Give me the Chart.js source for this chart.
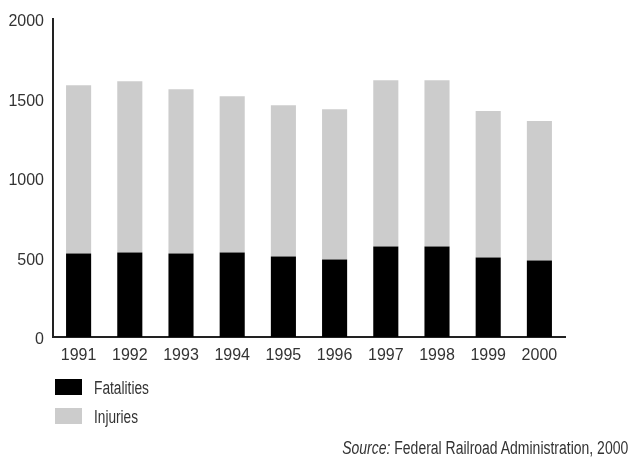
<!DOCTYPE html>
<html>
<head>
<meta charset="utf-8">
<script src="https://cdn.jsdelivr.net/npm/chart.js@4/dist/chart.umd.min.js"></script>
<style>
  html, body { margin: 0; padding: 0; background: #fff; }
  body { width: 642px; height: 458px; position: relative; overflow: hidden;
         font-family: "Liberation Sans", sans-serif; color: #333; }
  #wrap { position: absolute; left: 0; top: 0; width: 642px; height: 458px; }
  .box { position: absolute; left: 55px; width: 27px; height: 16px; }
  .txt { position: absolute; font-size: 18px; line-height: 20px; white-space: nowrap; transform-origin: 0 50%; }
  #src { transform-origin: 100% 50%; }
</style>
</head>
<body>
<div id="wrap"><canvas id="c" width="642" height="458"></canvas></div>
<div id="legend"></div>
<div id="src" class="txt"><i>Source:</i> Federal Railroad Administration, 2000</div>
<script>
const years = ["1991","1992","1993","1994","1995","1996","1997","1998","1999","2000"];
const fatalities = [525, 531, 525, 531, 506, 487, 569, 569, 500, 481];
const injuries = [1056, 1075, 1031, 981, 950, 944, 1043, 1043, 919, 875];
const seriesNames = ["Fatalities", "Injuries"];
const seriesColors = ["#000000", "#cccccc"];
const yTicks = [0, 500, 1000, 1500, 2000];

const font = { family: '"Liberation Sans", sans-serif', size: 16 };

const chart = new Chart(document.getElementById('c'), {
  type: 'bar',
  data: {
    labels: years,
    datasets: [
      { label: seriesNames[0], data: fatalities, backgroundColor: seriesColors[0], categoryPercentage: 1, barPercentage: 0.49 },
      { label: seriesNames[1], data: injuries, backgroundColor: seriesColors[1], categoryPercentage: 1, barPercentage: 0.49 }
    ]
  },
  options: {
    responsive: false,
    devicePixelRatio: 1,
    animation: false,
    layout: { padding: { left: 0, right: 77, top: 17, bottom: 0 } },
    plugins: { legend: { display: false }, tooltip: { enabled: false } },
    scales: {
      x: {
        stacked: true,
        grid: { display: false, drawTicks: false },
        border: { display: true, color: '#222', width: 2 },
        ticks: { font: font, color: '#333', padding: 9, maxRotation: 0 },
        afterFit: s => { s.height = 121; }
      },
      y: {
        stacked: true,
        min: 0, max: 2000,
        grid: { display: false, drawTicks: false },
        border: { display: true, color: '#222', width: 2 },
        ticks: { font: font, color: '#333', padding: 9, labelOffset: 3,
                 callback: (v) => yTicks.includes(v) ? String(v) : null, stepSize: 500 },
        afterFit: s => { s.width = 53; }
      }
    }
  }
});

// legend (HTML text), narrowed to mimic the condensed face of the original
function fitWidth(el, target) {
  const w = el.getBoundingClientRect().width;
  el.style.transform = 'scaleX(' + (target / w) + ')';
}
const legend = document.getElementById('legend');
const boxTops = [379, 408];
const textWidths = [55, 44];
seriesNames.forEach((n, i) => {
  const b = document.createElement('div');
  b.className = 'box';
  b.style.top = boxTops[i] + 'px';
  b.style.background = seriesColors[i];
  legend.appendChild(b);
  const t = document.createElement('div');
  t.className = 'txt';
  t.textContent = n;
  t.style.left = '94px';
  t.style.top = (boxTops[i] - 1) + 'px';
  legend.appendChild(t);
  fitWidth(t, textWidths[i]);
});
const src = document.getElementById('src');
src.style.top = '438px';
src.style.right = '14px';
fitWidth(src, 286);
</script>
</body>
</html>
